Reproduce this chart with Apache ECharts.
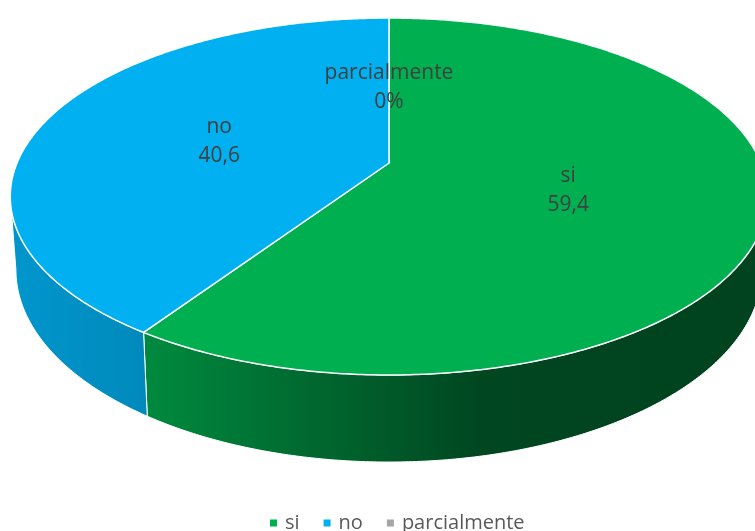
<!DOCTYPE html>
<html>
<head>
<meta charset="utf-8">
<script src="https://cdn.jsdelivr.net/npm/echarts@6/dist/echarts.min.js"></script>
<style>
  html, body { margin: 0; padding: 0; background: #ffffff; }
  #chart { width: 755px; height: 531px; }
</style>
</head>
<body>
<div id="chart"></div>
<script>
// ---- data ----
const categories = ['si', 'no', 'parcialmente'];
const values = [59.4, 40.6, 0];
const colors = ['#00B050', '#00B0F0', '#A5A5A5'];

// ---- 3D pie projection settings (layout only) ----
const CX = 389, CY = 163;     // projected centre of the top face
const A = 372, B = 172.2;     // horizontal / vertical radii
const K = 0.1877;             // perspective factor
const H = 70.7;               // thickness
const BOTTOM_SCALE = 0.985;   // slight convergence of the bottom rim
const LABEL_R = 0.49;
const VIS_L = -180 + Math.asin(K) * 180 / Math.PI;
const VIS_R = -Math.asin(K) * 180 / Math.PI;

function proj(deg, r, depth) {
  const t = deg * Math.PI / 180;
  const u = r * Math.cos(t), v = r * Math.sin(t);
  const w = 1 + K * v;
  const s = depth ? BOTTOM_SCALE : 1;
  return [CX + A * u / w * s, CY - B * v / w + depth * H / w];
}

function shade(hex, f) {
  const n = parseInt(hex.slice(1), 16);
  const r = Math.round(((n >> 16) & 255) * f);
  const g = Math.round(((n >> 8) & 255) * f);
  const b = Math.round((n & 255) * f);
  return 'rgb(' + r + ',' + g + ',' + b + ')';
}

function arc(a0, a1, depth) {
  const pts = [];
  const n = Math.max(2, Math.ceil(Math.abs(a1 - a0) / 0.5));
  for (let k = 0; k <= n; k++) pts.push(proj(a0 + (a1 - a0) * k / n, 1, depth));
  return pts;
}

function fmt(v) {
  return v === 0 ? '0%' : v.toFixed(1).replace('.', ',');
}

const total = values.reduce((s, v) => s + v, 0);

function renderItem(params, api) {
  const i = params.seriesIndex;
  const v = api.value(0);
  let cum = 0;
  for (let j = 0; j < i; j++) cum += values[j];
  const t0 = 90 - 360 * cum / total;
  const t1 = 90 - 360 * (cum + v) / total;
  const children = [];
  const base = colors[i];

  if (v > 0) {
    // side wall (front visible part only)
    const lo = Math.max(t1, VIS_L), hi = Math.min(t0, VIS_R);
    if (hi > lo) {
      const top = arc(lo, hi, 0);
      const bot = arc(hi, lo, 1);
      const grad = new echarts.graphic.LinearGradient(0, 0, 755, 0, [
        { offset: 0.0, color: shade(base, 0.86) },
        { offset: 0.2, color: shade(base, 0.78) },
        { offset: 0.4, color: shade(base, 0.60) },
        { offset: 0.64, color: shade(base, 0.40) },
        { offset: 1.0, color: shade(base, 0.38) }
      ], true);
      children.push({
        type: 'polygon',
        z2: 1,
        shape: { points: top.concat(bot) },
        style: { fill: grad, stroke: '#ffffff', lineWidth: 1, lineJoin: 'round' }
      });
    }
    // top face
    const pts = [[CX, CY]].concat(arc(t0, t1, 0));
    children.push({
      type: 'polygon',
      z2: 10,
      shape: { points: pts },
      style: { fill: base, stroke: '#ffffff', lineWidth: 1.5, lineJoin: 'round' }
    });
  }

  // label
  const mid = (t0 + t1) / 2;
  const p = proj(mid, LABEL_R, 0);
  children.push({
    type: 'text',
    z2: 100,
    style: {
      text: categories[i] + '\n' + fmt(v),
      x: p[0], y: p[1] + 2,
      align: 'center', verticalAlign: 'middle',
      fontFamily: 'Open Sans', fontSize: 21, lineHeight: 29,
      fill: '#404040'
    }
  });
  return { type: 'group', children: children };
}

const chart = echarts.init(document.getElementById('chart'), null, { renderer: 'canvas' });
chart.setOption({
  animation: false,
  color: colors,
  legend: {
    data: categories,
    left: 265,
    top: 508,
    icon: 'rect',
    itemWidth: 7,
    itemHeight: 7,
    itemGap: 24,
    selectedMode: false,
    textStyle: { fontFamily: 'Open Sans', fontSize: 20, color: '#595959', padding: [0, 0, 0, 3] }
  },
  series: categories.map((c, i) => ({
    type: 'custom',
    name: c,
    coordinateSystem: 'none',
    renderItem: renderItem,
    itemStyle: { color: colors[i] },
    data: [[values[i]]],
    silent: true
  }))
});
</script>
</body>
</html>
